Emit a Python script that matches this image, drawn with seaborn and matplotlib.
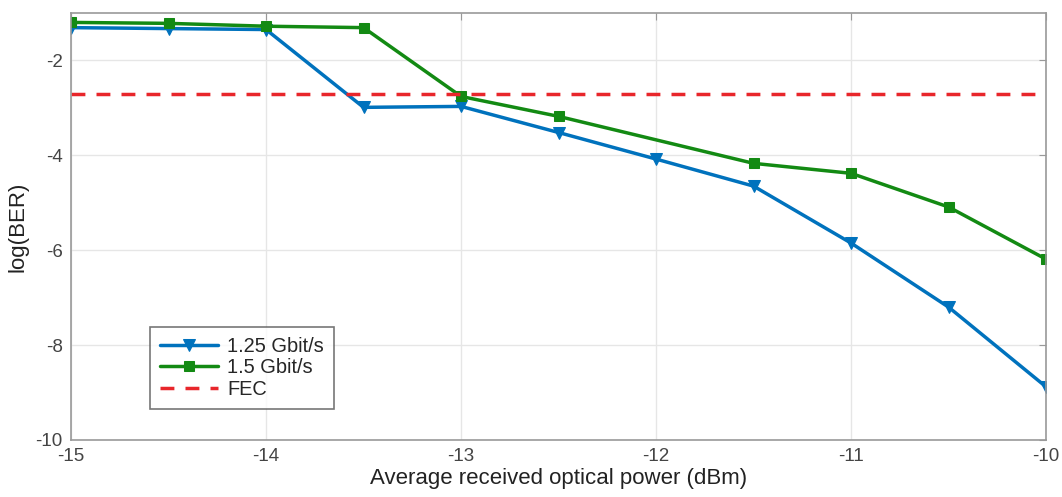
import matplotlib
matplotlib.use("Agg")
import matplotlib.pyplot as plt
import seaborn as sns
import pandas as pd

x_125 = [-15, -14.5, -14, -13.5, -13, -12.5, -12, -11.5, -11, -10.5, -10]
ber_125 = [-1.31, -1.33, -1.35, -2.99, -2.97, -3.52, -4.08, -4.65, -5.85, -7.2, -8.88]
x_15 = [-15, -14.5, -14, -13.5, -13, -12.5, -11.5, -11, -10.5, -10]
ber_15 = [-1.2, -1.22, -1.28, -1.31, -2.76, -3.18, -4.17, -4.38, -5.09, -6.19]
fec_level = -2.7
labels = ["1.25 Gbit/s", "1.5 Gbit/s", "FEC"]
xticks = [-15, -14, -13, -12, -11, -10]
yticks = [-10, -8, -6, -4, -2]

sns.set_style("white")
plt.rcParams['font.family'] = ['Liberation Sans', 'DejaVu Sans']

fig = plt.figure(figsize=(10.62, 4.97), dpi=100)
ax = fig.add_axes([0.0669, 0.1147, 0.9181, 0.8593])

df1 = pd.DataFrame({"x": x_125, "y": ber_125})
df2 = pd.DataFrame({"x": x_15, "y": ber_15})

sns.lineplot(data=df1, x="x", y="y", ax=ax, color="#0072BD", marker="v",
             markersize=9, linewidth=2.5, markeredgecolor="#0072BD", label=labels[0])
sns.lineplot(data=df2, x="x", y="y", ax=ax, color="#138A13", marker="s",
             markersize=6.5, linewidth=2.5, markeredgecolor="#138A13", label=labels[1])
ax.axhline(fec_level, color="#E8262B", linestyle=(0, (4, 3.2)), linewidth=2.5, label=labels[2])

ax.set_xlim(-15, -10)
ax.set_ylim(-10, -1)
ax.set_xticks(xticks)
ax.set_yticks(yticks)
ax.set_xticklabels([str(v) for v in xticks])
ax.set_yticklabels([str(v) for v in yticks])
ax.grid(True, color="#E6E6E6", linewidth=1)
ax.tick_params(direction="in", length=5, color="#999999", labelsize=13.5, labelcolor="#444444",
               top=True, right=True, pad=6)
for s in ax.spines.values():
    s.set_color("#999999")
    s.set_linewidth(1.2)
ax.set_xlabel("Average received optical power (dBm)", fontsize=16, color="#222222", labelpad=2)
ax.set_ylabel("log(BER)", fontsize=16, color="#222222", labelpad=5)

leg = ax.legend(loc="lower left", bbox_to_anchor=(0.081, 0.073), fontsize=14.4,
                frameon=True, fancybox=False, edgecolor="#555555", borderpad=0.5,
                handlelength=2.9, labelspacing=0.12, handletextpad=0.45, borderaxespad=0)
leg.get_frame().set_linewidth(1.2)

fig.savefig("out.png", dpi=100)
